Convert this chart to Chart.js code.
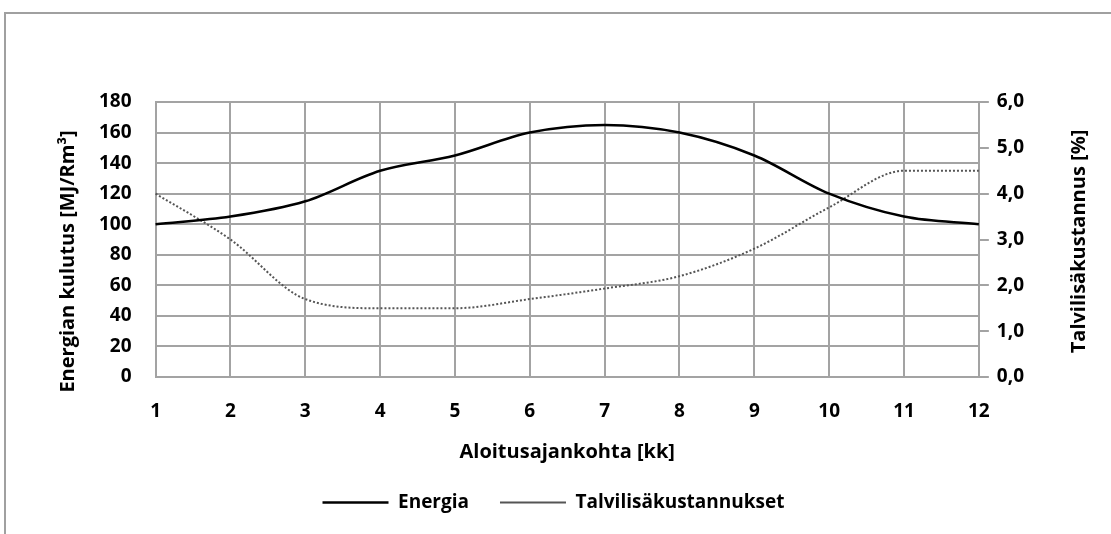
<!DOCTYPE html>
<html>
<head>
<meta charset="utf-8">
<script src="https://cdn.jsdelivr.net/npm/chart.js@4"></script>
<style>
  html, body { margin: 0; padding: 0; background: #fff; }
  #wrap { position: relative; width: 1111px; height: 534px; }
  #frame { position: absolute; left: 4px; top: 12px; right: 0; bottom: 0; border-left: 2px solid #a0a0a0; border-top: 2px solid #a0a0a0; }
  canvas { position: absolute; left: 0; top: 0; }
</style>
</head>
<body>
<div id="wrap">
  <div id="frame"></div>
  <canvas id="chart" width="1111" height="534"></canvas>
</div>
<script>
const MONTHS = ['1', '2', '3', '4', '5', '6', '7', '8', '9', '10', '11', '12'];
const ENERGIA = [100, 105, 115, 135, 145, 160, 165, 160, 145, 120, 105, 100];
const TALVILISA = [4.0, 3.0, 1.7, 1.5, 1.5, 1.7, 1.93, 2.2, 2.8, 3.7, 4.5, 4.5];

const FONT = '"Open Sans", Lato, sans-serif';
const GRID = '#a3a3a3';

// both y titles read bottom-to-top and sit a bit off-centre, so draw them by hand
const sideTitles = {
    id: 'sideTitles',
    afterDraw(chart) {
        const {ctx, chartArea} = chart;
        const mid = (chartArea.top + chartArea.bottom) / 2;
        const draw = (text, x, y) => {
            ctx.save();
            ctx.translate(x, y);
            ctx.rotate(-Math.PI / 2);
            ctx.font = `bold 20px ${FONT}`;
            ctx.fillStyle = '#000';
            ctx.textAlign = 'center';
            ctx.textBaseline = 'middle';
            ctx.fillText(text, 0, 0);
            ctx.restore();
        };
        draw('Energian kulutus [MJ/Rm³]', 68, mid + 22);
        draw('Talvilisäkustannus [%]', 1079, mid + 2);
    }
};

new Chart(document.getElementById('chart'), {
    type: 'line',
    data: {
        labels: MONTHS,
        datasets: [
            {
                label: 'Energia',
                data: ENERGIA,
                yAxisID: 'y',
                borderColor: '#000',
                borderWidth: 2.5,
                pointRadius: 0,
                cubicInterpolationMode: 'monotone',
            },
            {
                label: 'Talvilisäkustannukset',
                data: TALVILISA,
                yAxisID: 'y2',
                borderColor: '#555',
                borderWidth: 2,
                borderDash: [2, 2],
                pointRadius: 0,
                cubicInterpolationMode: 'monotone',
            },
        ]
    },
    options: {
        responsive: false,
        animation: false,
        layout: {padding: {left: 75, right: 79, top: 102, bottom: 12}},
        scales: {
            x: {
                offset: false,
                grid: {color: GRID, lineWidth: 2, drawTicks: false},
                border: {color: GRID, width: 2},
                ticks: {color: '#000', font: {family: FONT, size: 19, weight: 'bold', lineHeight: 1}, padding: 25, maxRotation: 0},
                title: {display: true, text: 'Aloitusajankohta [kk]', color: '#000', font: {family: FONT, size: 20, weight: 'bold', lineHeight: 1}, padding: {top: -4, bottom: 0}},
            },
            y: {
                position: 'left',
                min: 0, max: 180,
                ticks: {stepSize: 20, color: '#000', font: {family: FONT, size: 19, weight: 'bold'}, padding: 24},
                grid: {color: GRID, lineWidth: 2, drawTicks: false},
                border: {color: GRID, width: 2},
            },
            y2: {
                position: 'right',
                min: 0, max: 6,
                ticks: {
                    stepSize: 1, color: '#000', padding: 8,
                    font: {family: FONT, size: 19, weight: 'bold'},
                    callback: v => v.toFixed(1).replace('.', ','),
                },
                grid: {drawOnChartArea: false, color: GRID, lineWidth: 2, tickLength: 10},
                border: {color: GRID, width: 2},
            },
        },
        plugins: {
            legend: {
                position: 'bottom',
                labels: {
                    color: '#000',
                    font: {family: FONT, size: 19, weight: 'bold'},
                    usePointStyle: true,
                    pointStyle: 'line',
                    pointStyleWidth: 66,
                    boxHeight: 8,
                    padding: 31,
                },
            },
            tooltip: {enabled: false},
        },
    },
    plugins: [sideTitles],
});
</script>
</body>
</html>
